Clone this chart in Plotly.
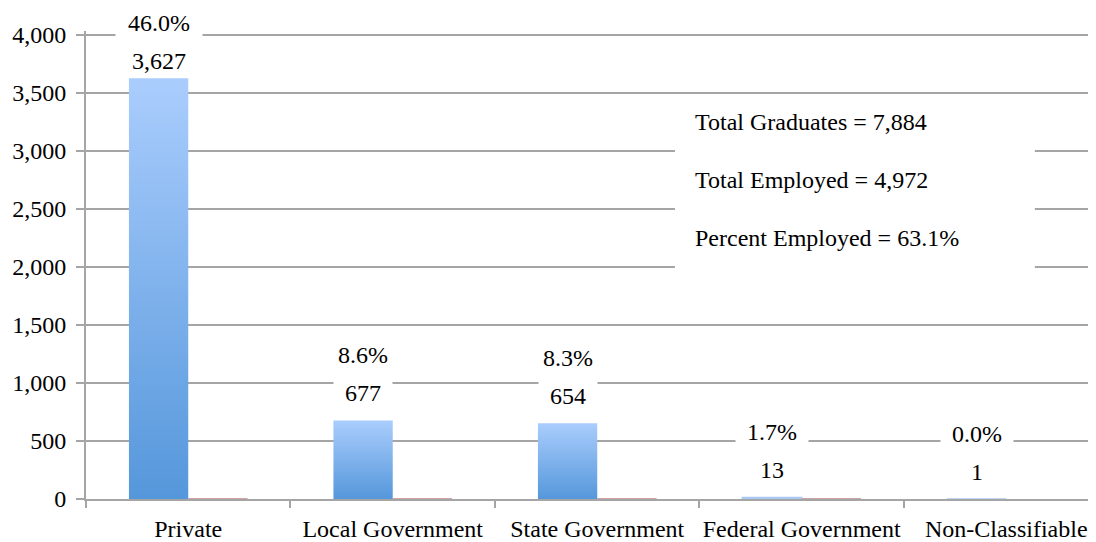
import plotly.graph_objects as go

CATEGORIES = ['Private', 'Local Government', 'State Government',
              'Federal Government', 'Non-Classifiable']
EMPLOYED = [3627, 677, 654, 13, 1]
SHARE = [0.460, 0.086, 0.083, 0.017, 0.000]
SHARE_LABELS = ['46.0%', '8.6%', '8.3%', '1.7%', '0.0%']
SUMMARY = ['Total Graduates = 7,884', 'Total Employed = 4,972',
           'Percent Employed = 63.1%']
SUMMARY_Y = [3250, 2750, 2250]
Y_TICKS = list(range(0, 4001, 500))

# the page body adds an 8px margin, so the figure is 8px smaller
W, H = 1088, 534
M_L, M_R, M_T, M_B = 78, 0, 23, 43
PX = 0.116                      # pixels per unit on the y axis
Y_TOP = 4000 + (27 - M_T) / PX  # 4,000 sits 27px below the figure top
BAR_W = 0.29
GRAY = '#a5a5a5'
FONT = 'Liberation Serif, Times New Roman, serif'
FS = 24


def outline(i, value, left_side):
    x0 = i - BAR_W if left_side else i
    x1 = x0 + BAR_W
    return [x0, x0, x1, x1, x0], [0, value, value, 0, 0]


fig = go.Figure()

for i, v in enumerate(EMPLOYED):
    xs, ys = outline(i, v, True)
    fig.add_trace(go.Scatter(
        x=xs, y=ys, mode='lines', fill='toself',
        fillgradient=dict(type='vertical',
                          colorscale=[[0, '#5597db'], [1, '#aacdfd']]),
        line=dict(width=1.5 if v < 50 else 0, color='#a9c8f2'),
        hoverinfo='skip', showlegend=False,
    ))

for i, v in enumerate(SHARE):
    xs, ys = outline(i, v, False)
    fig.add_trace(go.Scatter(
        x=xs, y=ys, mode='lines', fill='toself', fillcolor='#d4a5a5',
        line=dict(width=2 if v > 0 else 0, color='#cfa3a3'),
        hoverinfo='skip', showlegend=False,
    ))

# value and share labels above the blue bars
for i, (v, pl) in enumerate(zip(EMPLOYED, SHARE_LABELS)):
    top = v * PX
    pct_pos = min(top + 65, 4000 * PX + 12)
    val_pos = min(top + 27, pct_pos - 38)
    label = f'{v:,}'
    for text, pos in ((label, val_pos), (pl, pct_pos)):
        fig.add_annotation(
            x=i - BAR_W / 2, y=0, xref='x', yref='y', text=text,
            showarrow=False, yanchor='middle', yshift=pos,
            bgcolor='white', borderpad=2, width=14 * len(text) + 12,
            font=dict(family=FONT, size=FS, color='black'),
        )

# summary box
fig.add_shape(type='rect', xref='x', yref='y', x0=2.38, x1=4.14,
              y0=1960, y1=3445, fillcolor='white', line_width=0,
              layer='between')
for text, y in zip(SUMMARY, SUMMARY_Y):
    fig.add_annotation(
        x=2.47, y=y, xref='x', yref='y', text=text, showarrow=False,
        xanchor='left', yanchor='middle',
        font=dict(family=FONT, size=FS, color='black'),
    )

fig.update_xaxes(
    range=[-0.5, 4.439], tickvals=list(range(len(CATEGORIES))),
    ticktext=CATEGORIES, ticks='', showgrid=False, zeroline=False,
    showline=True, linecolor=GRAY, linewidth=2, automargin=False,
    minor=dict(tickvals=[i - 0.5 for i in range(len(CATEGORIES) + 1)],
               ticks='outside', ticklen=7, tickwidth=2, tickcolor=GRAY),
    ticklabelstandoff=7,
)
fig.update_yaxes(
    range=[0, Y_TOP], tickvals=Y_TICKS, tickformat=',', ticks='outside',
    ticklen=8, tickwidth=2, tickcolor=GRAY, showline=True, linecolor=GRAY,
    linewidth=2, gridcolor=GRAY, gridwidth=2, zeroline=False,
    automargin=False, ticklabelstandoff=5,
)
fig.update_layout(
    width=W, height=H, margin=dict(l=M_L, r=M_R, t=M_T, b=M_B),
    plot_bgcolor='white', paper_bgcolor='white',
    font=dict(family=FONT, size=FS, color='black'),
    showlegend=False,
)

fig.write_html('out.html')
